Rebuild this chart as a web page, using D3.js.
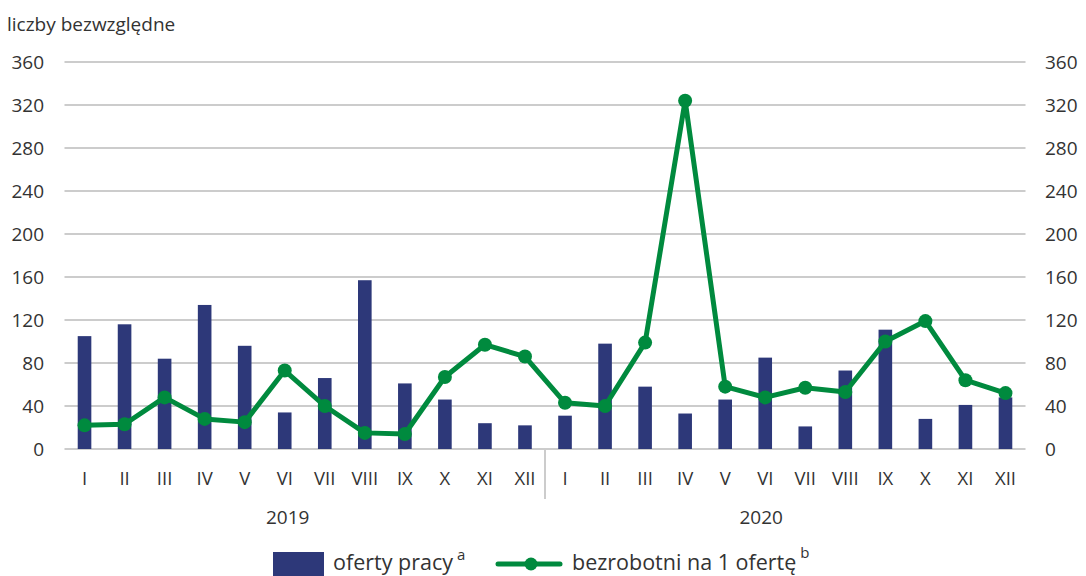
<!DOCTYPE html>
<html>
<head>
<meta charset="utf-8">
<script src="https://cdn.jsdelivr.net/npm/d3@7"></script>
<style>
  body { margin: 0; background: #fff; }
  text { font-family: "Open Sans", sans-serif; fill: #333; }
</style>
</head>
<body>
<svg id="chart" width="1086" height="576"></svg>
<script>
const months = ["I","II","III","IV","V","VI","VII","VIII","IX","X","XI","XII"];
const years = ["2019", "2020"];
const yTicks = [0, 40, 80, 120, 160, 200, 240, 280, 320, 360];

// oferty pracy (bars)
const offers2019 = [105, 116, 84, 134, 96, 34, 66, 157, 61, 46, 24, 22];
const offers2020 = [31, 98, 58, 33, 46, 85, 21, 73, 111, 28, 41, 48];
// bezrobotni na 1 ofertę (line)
const unemp2019 = [22, 23, 48, 28, 25, 73, 40, 15, 14, 67, 97, 86];
const unemp2020 = [43, 40, 99, 324, 58, 48, 57, 53, 100, 119, 64, 52];

const barColor = "#2d3879";
const lineColor = "#008a3e";
const gridColor = "#cccccc";

const svg = d3.select("#chart");

// build rows
const rows = [];
years.forEach(function(y, yi) {
    months.forEach(function(m, i) {
        rows.push({
            key: y + "-" + m,
            month: m,
            year: y,
            offers: yi == 0 ? offers2019[i] : offers2020[i],
            unemp: yi == 0 ? unemp2019[i] : unemp2020[i]
        });
    });
});

const xScale = d3.scaleBand()
    .domain(rows.map(function(d) { return d.key; }))
    .range([64.5, 1025.5])
    .paddingInner(0.66)
    .paddingOuter(0.33);
const yScale = d3.scaleLinear().domain([0, 360]).range([449, 62]);
const cx = function(d) { return xScale(d.key) + xScale.bandwidth() / 2; };

// gridlines
svg.append("g")
    .selectAll("line")
    .data(yTicks)
    .enter()
    .append("line")
        .attr("x1", 64.5)
        .attr("x2", 1025.5)
        .attr("y1", function(d) { return yScale(d); })
        .attr("y2", function(d) { return yScale(d); })
        .attr("stroke", gridColor)
        .attr("stroke-width", 2);

// left and right axes (labels only)
const leftAxis = svg.append("g")
    .attr("transform", "translate(44,0)")
    .call(d3.axisLeft(yScale).tickValues(yTicks).tickSize(0).tickPadding(0));
const rightAxis = svg.append("g")
    .attr("transform", "translate(1045,0)")
    .call(d3.axisRight(yScale).tickValues(yTicks).tickSize(0).tickPadding(0));
[leftAxis, rightAxis].forEach(function(a) {
    a.select(".domain").remove();
    a.selectAll("text")
        .style("font-size", "19px")
        .style("font-family", "Open Sans")
        .attr("fill", "#333");
});

// title
svg.append("text")
    .attr("x", 7)
    .attr("y", 31)
    .style("font-size", "19px")
    .text("liczby bezwzględne");

// bars
svg.append("g")
    .selectAll("rect")
    .data(rows)
    .enter()
    .append("rect")
        .attr("x", function(d) { return xScale(d.key); })
        .attr("y", function(d) { return yScale(d.offers); })
        .attr("width", xScale.bandwidth())
        .attr("height", function(d) { return yScale(0) - yScale(d.offers); })
        .attr("fill", barColor);

// year divider
svg.append("line")
    .attr("x1", xScale("2020-I") - xScale.step() * xScale.paddingInner() / 2)
    .attr("x2", xScale("2020-I") - xScale.step() * xScale.paddingInner() / 2)
    .attr("y1", 449)
    .attr("y2", 499)
    .attr("stroke", gridColor)
    .attr("stroke-width", 2);

// month labels
svg.append("g")
    .selectAll("text")
    .data(rows)
    .enter()
    .append("text")
        .attr("x", cx)
        .attr("y", 485)
        .attr("text-anchor", "middle")
        .style("font-size", "18.5px")
        .text(function(d) { return d.month; });

// year labels
svg.append("g")
    .selectAll("text")
    .data(years)
    .enter()
    .append("text")
        .attr("x", function(d) { return cx({key: d + "-VI"}) + (d == "2019" ? 3 : -4); })
        .attr("y", 524)
        .attr("text-anchor", "middle")
        .style("font-size", "19px")
        .text(function(d) { return d; });

// line
const line = d3.line()
    .x(cx)
    .y(function(d) { return yScale(d.unemp); });

svg.append("path")
    .datum(rows)
    .attr("fill", "none")
    .attr("stroke", lineColor)
    .attr("stroke-width", 5)
    .attr("stroke-linejoin", "round")
    .attr("d", line);

svg.append("g")
    .selectAll("circle")
    .data(rows)
    .enter()
    .append("circle")
        .attr("cx", cx)
        .attr("cy", function(d) { return yScale(d.unemp); })
        .attr("r", 7)
        .attr("fill", lineColor);

// legend
const legend = svg.append("g");
legend.append("rect")
    .attr("x", 273).attr("y", 552)
    .attr("width", 51).attr("height", 24)
    .attr("fill", barColor);
const t1 = legend.append("text")
    .attr("x", 333).attr("y", 570)
    .style("font-size", "21.5px")
    .text("oferty pracy");
legend.append("text")
    .attr("x", 333 + t1.node().getComputedTextLength() + 4).attr("y", 560)
    .style("font-size", "15px")
    .text("a");
legend.append("line")
    .attr("x1", 498).attr("x2", 560)
    .attr("y1", 564).attr("y2", 564)
    .attr("stroke", lineColor)
    .attr("stroke-width", 5)
    .attr("stroke-linecap", "round");
legend.append("circle")
    .attr("cx", 531).attr("cy", 564).attr("r", 6.5)
    .attr("fill", lineColor);
const t2 = legend.append("text")
    .attr("x", 572).attr("y", 570)
    .style("font-size", "21.5px")
    .text("bezrobotni na 1 ofertę");
legend.append("text")
    .attr("x", 572 + t2.node().getComputedTextLength() + 4).attr("y", 558)
    .style("font-size", "15px")
    .text("b");
</script>
</body>
</html>
